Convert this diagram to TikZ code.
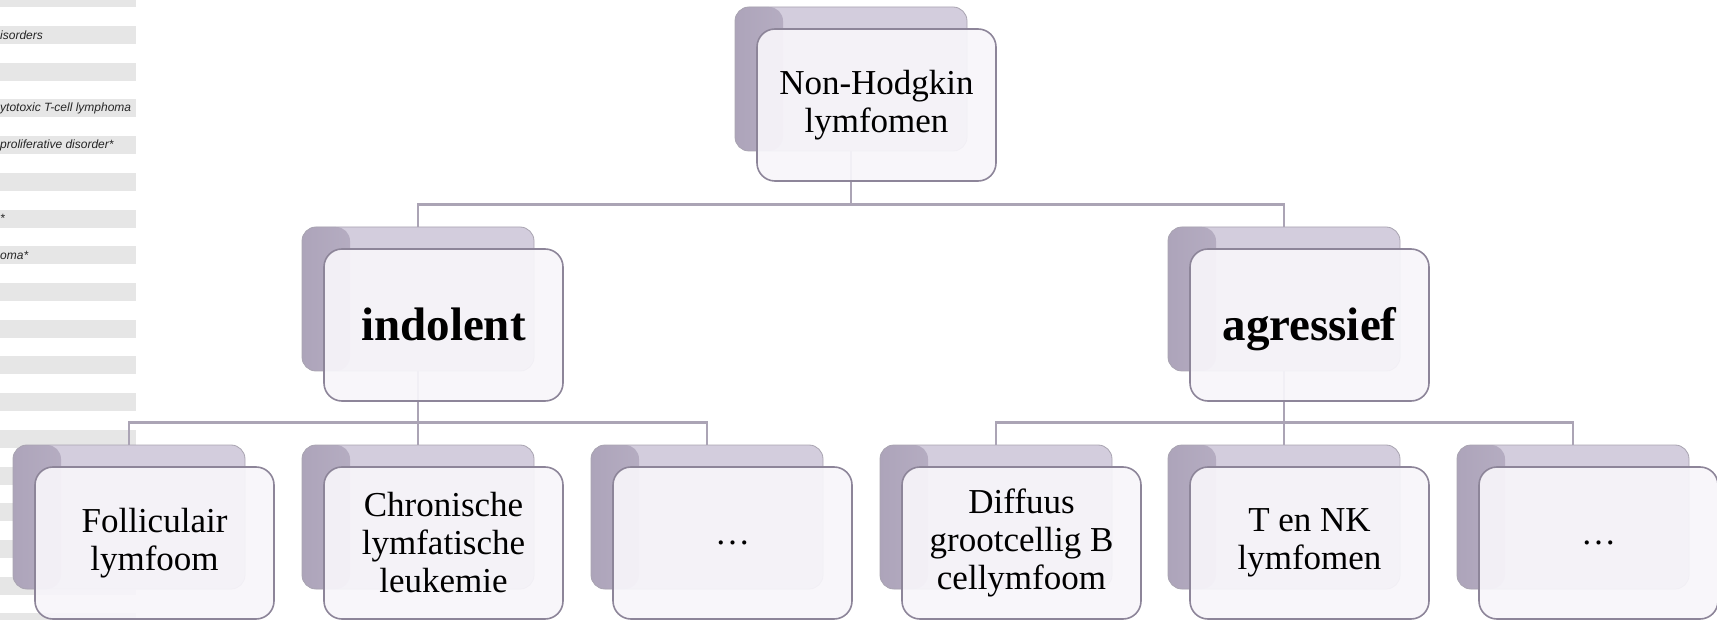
\documentclass[tikz,border=0pt]{standalone}
\usepackage{fontspec}
\setmainfont{Liberation Serif}
\newfontfamily\fragfont{Liberation Sans}
\definecolor{cardback}{HTML}{D3CDDD}
\definecolor{cardbackdark}{HTML}{ADA4BA}
\definecolor{cardfront}{HTML}{F7F5FA}
\definecolor{cardline}{HTML}{8D8599}
\definecolor{treegray}{HTML}{ABA4B5}
\definecolor{stripegray}{HTML}{E6E6E6}
\tikzset{
  backcard/.style={rectangle,rounded corners=14pt,minimum width=232pt,minimum height=144pt,
    draw=cardback!80!black,line width=0.8pt,fill=cardback,
    path picture={\shade[left color=cardbackdark,right color=cardback,shading angle=90]
      (path picture bounding box.south west) rectangle ([xshift=48pt]path picture bounding box.north west);}},
  cardbody/.style={rectangle,rounded corners=18pt,minimum width=239pt,minimum height=152pt,
    draw=cardline,line width=1.6pt,fill=cardfront,fill opacity=0.93,text opacity=1},
  frontcard/.style={cardbody,align=center,font=\fontsize{35}{38}\selectfont},
  headcard/.style={cardbody,font=\fontsize{47}{50}\selectfont\bfseries,text height=32pt,text depth=0pt},
  treeline/.style={treegray,line width=2.4pt},
  fragment/.style={anchor=west,inner sep=0pt,text=black!85,
    font=\fragfont\itshape\fontsize{12}{14}\selectfont}
}
\begin{document}
\begin{tikzpicture}[x=1pt,y=-1pt]
  \useasboundingbox (0,0) rectangle (1717,620);
  % table rows behind the chart
  \foreach \k in {0,...,17}
    \fill[stripegray] (0,{36.7*\k-10.6}) rectangle (136,{36.7*\k+7.4});
  \node[fragment] (fragA) at (0,35.1) {isorders};
  \node[fragment] (fragB) at (0,108.5) {ytotoxic T-cell lymphoma};
  \node[fragment] (fragC) at (0,145.2) {proliferative disorder*};
  \node[fragment] (fragD) at (0,218.6) {*};
  \node[fragment] (fragE) at (0,255.3) {oma*};

  % back cards
  \node[backcard] (nhlB) at (851,79) {};
  \node[backcard] (indB) at (418,299) {};
  \node[backcard] (agrB) at (1284,299) {};
  \node[backcard] (follB) at (129,517) {};
  \node[backcard] (cllB) at (418,517) {};
  \node[backcard] (indDotsB) at (707,517) {};
  \node[backcard] (dlbclB) at (996,517) {};
  \node[backcard] (tnkB) at (1284,517) {};
  \node[backcard] (agrDotsB) at (1573,517) {};

  % tree lines
  \draw[treeline] (nhlB.south) -- ++(0,53) -| (indB.north);
  \draw[treeline] (nhlB.south) -- ++(0,53) -| (agrB.north);
  \draw[treeline] (indB.south) -- ++(0,51) -| (follB.north);
  \draw[treeline] (indB.south) -- (cllB.north);
  \draw[treeline] (indB.south) -- ++(0,51) -| (indDotsB.north);
  \draw[treeline] (agrB.south) -- ++(0,51) -| (dlbclB.north);
  \draw[treeline] (agrB.south) -- (tnkB.north);
  \draw[treeline] (agrB.south) -- ++(0,51) -| (agrDotsB.north);

  % front cards
  \node[frontcard] (nhl) at (876.5,105) {Non-Hodgkin\\lymfomen};
  \node[headcard] (ind) at (443.5,325) {indolent};
  \node[headcard] (agr) at (1309.5,325) {agressief};
  \node[frontcard] (foll) at (154.5,543) {Folliculair\\lymfoom};
  \node[frontcard] (cll) at (443.5,543) {Chronische\\lymfatische\\leukemie};
  \node[frontcard] (indDots) at (732.5,543) {\dots};
  \node[frontcard] (dlbcl) at (1021.5,543) {Diffuus\\grootcellig B\\cellymfoom};
  \node[frontcard] (tnk) at (1309.5,543) {T en NK\\lymfomen};
  \node[frontcard] (agrDots) at (1598.5,543) {\dots};
\end{tikzpicture}
\end{document}
